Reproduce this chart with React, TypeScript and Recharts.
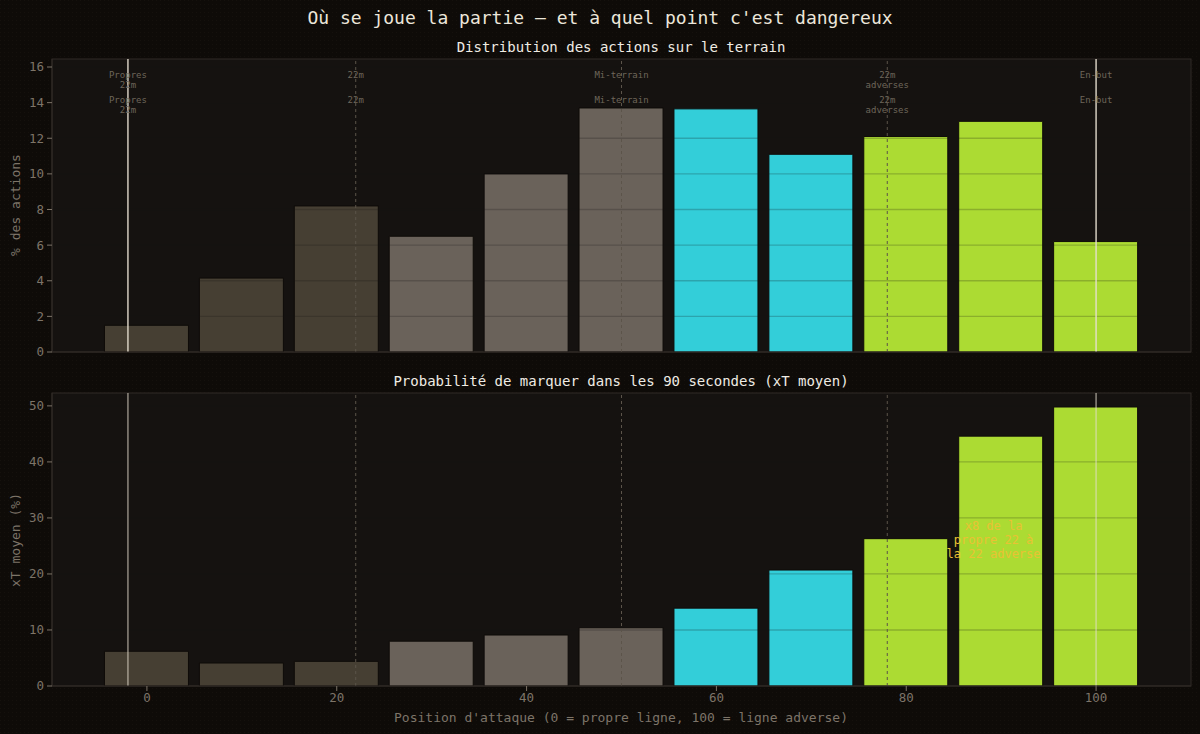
import React from "react";
import {
  BarChart,
  Bar,
  XAxis,
  YAxis,
  Cell,
  ReferenceLine,
  ReferenceDot,
} from "recharts";

// ---- data ----
const positions = [0, 10, 20, 30, 40, 50, 60, 70, 80, 90, 100];
const actionsPct = [1.5, 4.15, 8.2, 6.5, 10.0, 13.7, 13.65, 11.1, 12.1, 12.95, 6.2];
const xtMean = [6.2, 4.1, 4.4, 8.0, 9.1, 10.4, 13.9, 20.7, 26.3, 44.6, 49.8];
const zones = ["own", "own", "own", "mid", "mid", "mid", "att", "att", "box", "box", "box"];

const markerX = [-2, 22, 50, 78, 100];
const markerLabels = [["Propres", "22m"], ["22m"], ["Mi-terrain"], ["22m", "adverses"], ["En-but"]];
const markerSolid = [true, false, false, false, true];

const xTicks = [0, 20, 40, 60, 80, 100];
const topTicks = [0, 2, 4, 6, 8, 10, 12, 14, 16];
const bottomTicks = [0, 10, 20, 30, 40, 50];

const annotationLines = ["x8 de la", "propre 22 à", "la 22 adverse"];
const annotationX = 89.2;
const annotationY = 26;

// ---- styles ----
const FONT = "'DejaVu Sans Mono', monospace";
const FIG_BG = "#0e0b08";
const PLOT_BG = "#151210";
const SPINE = "#302b26";
const TICK_COLOR = "#7d7468";
const zoneColor: Record<string, string> = {
  own: "#463f33",
  mid: "#6a625a",
  att: "#33ced9",
  box: "#acdb33",
};

const rows = positions.map((p, i) => ({
  pos: p,
  actions: actionsPct[i],
  xt: xtMean[i],
  zone: zones[i],
}));

function MarkerLabel(props: any) {
  const { viewBox, lines } = props;
  if (!viewBox) return null;
  const x = viewBox.x;
  const y0 = viewBox.y;
  const sets = [19, 44];
  return (
    <g>
      {sets.map((off, k) =>
        lines.map((t: string, j: number) => (
          <text
            key={`${k}-${j}`}
            x={x}
            y={y0 + off + j * 10}
            textAnchor="middle"
            fontFamily={FONT}
            fontSize={9}
            fill="#6e665a"
          >
            {t}
          </text>
        ))
      )}
    </g>
  );
}

function Annotation(props: any) {
  const { cx, cy } = props;
  return (
    <g>
      {annotationLines.map((t, j) => (
        <text
          key={j}
          x={cx}
          y={cy + (j - 1) * 14 + 4}
          textAnchor="middle"
          fontFamily={FONT}
          fontSize={12}
          fill="#e9c233"
        >
          {t}
        </text>
      ))}
    </g>
  );
}

function markerLines(top: boolean) {
  return markerX.map((x, i) => (
    <ReferenceLine
      key={`m${i}`}
      x={x}
      stroke={markerSolid[i] ? "#e6dfd0" : "#5c544a"}
      strokeOpacity={markerSolid[i] ? (top ? 0.85 : 0.55) : 1}
      strokeWidth={markerSolid[i] ? 1.6 : 1}
      strokeDasharray={markerSolid[i] ? undefined : "3 3"}
      label={top ? (p: any) => <MarkerLabel {...p} lines={markerLabels[i]} /> : undefined}
    />
  ));
}

function gridLines(ticks: number[]) {
  return ticks
    .filter((t) => t > 0)
    .map((t) => (
      <ReferenceLine key={`g${t}`} y={t} stroke={PLOT_BG} strokeOpacity={0.22} strokeWidth={1.3} />
    ));
}

const tickStyle = { fill: TICK_COLOR, fontSize: 12.5, fontFamily: FONT };

export default function App() {
  return (
    <div
      style={{
        position: "fixed",
        left: 0,
        top: 0,
        width: 1200,
        height: 734,
        background: FIG_BG,
        overflow: "hidden",
        fontFamily: FONT,
      }}
    >
      <svg width={1200} height={734} style={{ position: "absolute", left: 0, top: 0 }}>
        <defs>
          <pattern id="dots" width={4} height={4} patternUnits="userSpaceOnUse">
            <rect x={0} y={0} width={1} height={1} fill="#15110d" />
          </pattern>
        </defs>
        <rect x={0} y={0} width={1200} height={734} fill="url(#dots)" />
        <rect x={52} y={59} width={1139} height={293} fill={PLOT_BG} stroke={SPINE} />
        <rect x={52} y={393} width={1139} height={293} fill={PLOT_BG} stroke={SPINE} />
        <text x={600} y={24} textAnchor="middle" fontFamily={FONT} fontSize={18} fill="#ece6da">
          Où se joue la partie — et à quel point c'est dangereux
        </text>
        <text x={621} y={52} textAnchor="middle" fontFamily={FONT} fontSize={14} fill="#f0ece4">
          Distribution des actions sur le terrain
        </text>
        <text x={621} y={386} textAnchor="middle" fontFamily={FONT} fontSize={14} fill="#f0ece4">
          Probabilité de marquer dans les 90 secondes (xT moyen)
        </text>
        <text
          x={20}
          y={205}
          transform="rotate(-90 20 205)"
          textAnchor="middle"
          fontFamily={FONT}
          fontSize={13}
          fill={TICK_COLOR}
        >
          % des actions
        </text>
        <text
          x={20}
          y={540}
          transform="rotate(-90 20 540)"
          textAnchor="middle"
          fontFamily={FONT}
          fontSize={13}
          fill={TICK_COLOR}
        >
          xT moyen (%)
        </text>
        <text x={621} y={722} textAnchor="middle" fontFamily={FONT} fontSize={13} fill={TICK_COLOR}>
          Position d'attaque (0 = propre ligne, 100 = ligne adverse)
        </text>
      </svg>

      <div style={{ position: "absolute", left: 0, top: 0 }}>
        <BarChart
          width={1200}
          height={370}
          data={rows}
          margin={{ top: 59, right: 9, bottom: 0, left: 12 }}
        >
          <XAxis
            type="number"
            dataKey="pos"
            domain={[-10, 110]}
            ticks={xTicks}
            allowDataOverflow
            height={18}
            tick={false}
            tickLine={{ stroke: TICK_COLOR }}
            axisLine={{ stroke: SPINE }}
            tickSize={5}
          />
          <YAxis
            type="number"
            domain={[0, 16.45]}
            ticks={topTicks}
            allowDataOverflow
            width={40}
            tick={tickStyle}
            tickLine={{ stroke: TICK_COLOR }}
            axisLine={{ stroke: SPINE }}
            tickSize={5}
            tickMargin={3}
          />
          <Bar dataKey="actions" barSize={84} isAnimationActive={false} stroke="#0e0b08" strokeWidth={1}>
            {rows.map((r, i) => (
              <Cell key={i} fill={zoneColor[r.zone]} />
            ))}
          </Bar>
          {gridLines(topTicks)}
          {markerLines(true)}
        </BarChart>
      </div>

      <div style={{ position: "absolute", left: 0, top: 370 }}>
        <BarChart
          width={1200}
          height={364}
          data={rows}
          margin={{ top: 23, right: 9, bottom: 0, left: 12 }}
        >
          <XAxis
            type="number"
            dataKey="pos"
            domain={[-10, 110]}
            ticks={xTicks}
            allowDataOverflow
            height={48}
            tick={tickStyle}
            tickLine={{ stroke: TICK_COLOR }}
            axisLine={{ stroke: SPINE }}
            tickSize={5}
            tickMargin={2}
          />
          <YAxis
            type="number"
            domain={[0, 52.3]}
            ticks={bottomTicks}
            allowDataOverflow
            width={40}
            tick={tickStyle}
            tickLine={{ stroke: TICK_COLOR }}
            axisLine={{ stroke: SPINE }}
            tickSize={5}
            tickMargin={3}
          />
          <Bar dataKey="xt" barSize={84} isAnimationActive={false} stroke="#0e0b08" strokeWidth={1}>
            {rows.map((r, i) => (
              <Cell key={i} fill={zoneColor[r.zone]} />
            ))}
          </Bar>
          {gridLines(bottomTicks)}
          {markerLines(false)}
          <ReferenceDot
            x={annotationX}
            y={annotationY}
            r={0}
            fill="none"
            stroke="none"
            shape={(p: any) => <Annotation {...p} />}
          />
        </BarChart>
      </div>
    </div>
  );
}
